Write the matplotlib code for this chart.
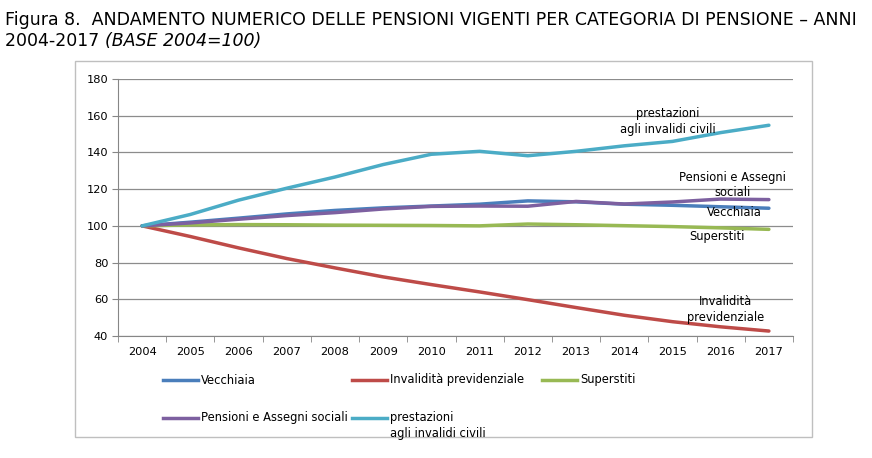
import matplotlib
matplotlib.use("Agg")
import matplotlib.pyplot as plt
from matplotlib.lines import Line2D
from matplotlib.patches import Rectangle

# anni
years = [str(y) for y in range(2004, 2018)]

# serie (base 2004 = 100)
vecchiaia = [100, 102.0, 104.2, 106.5, 108.4, 109.8, 110.8, 111.8, 113.6, 113.1, 111.8, 111.2, 110.4, 109.6]
invalidita = [100, 94.2, 88.0, 82.2, 77.1, 72.2, 68.0, 64.0, 59.8, 55.5, 51.3, 47.8, 45.0, 42.7]
superstiti = [100, 100.5, 100.7, 100.6, 100.4, 100.3, 100.2, 100.0, 101.0, 100.6, 100.1, 99.6, 98.9, 98.1]
pensioni_sociali = [100, 101.6, 103.6, 105.6, 107.2, 109.2, 110.6, 110.8, 110.7, 113.3, 111.9, 113.0, 114.6, 114.3]
invalidi_civili = [100, 106.2, 114.0, 120.5, 126.6, 133.4, 139.0, 140.6, 138.2, 140.6, 143.6, 146.0, 150.8, 154.8]

names = ["Vecchiaia", "Invalidità previdenziale", "Superstiti",
         "Pensioni e Assegni sociali", "prestazioni\nagli invalidi civili"]
series = [vecchiaia, invalidita, superstiti, pensioni_sociali, invalidi_civili]
colors = ["#4A7EBB", "#BE4B48", "#98B954", "#7D60A0", "#4BACC6"]

W, H = 872, 458
fig = plt.figure(figsize=(W / 100, H / 100), dpi=100)
plt.rcParams["font.family"] = ["DejaVu Sans"]

# titolo
tsize = 12.5
fig.text(5 / W, 1 - 20 / H, "Figura 8.  ANDAMENTO NUMERICO DELLE PENSIONI VIGENTI PER CATEGORIA DI PENSIONE \u2013 ANNI",
         fontsize=tsize, va="center", ha="left")
t1 = fig.text(5 / W, 1 - 41 / H, "2004-2017 ", fontsize=tsize, va="center", ha="left")
fig.canvas.draw()
bb = t1.get_window_extent()
fig.text(bb.x1 / W, 1 - 41 / H, "(BASE 2004=100)", fontsize=tsize, va="center", ha="left", style="italic")

# cornice del grafico
fig.add_artist(Rectangle((75 / W, 1 - 437 / H), 737 / W, 376 / H, transform=fig.transFigure,
                         fill=False, edgecolor="#BFBFBF", linewidth=1.0))

ax = fig.add_axes([118 / W, 1 - 336 / H, 675 / W, 257 / H])
x = list(range(len(years)))
for vals, c in zip(series, colors):
    ax.plot(x, vals, color=c, linewidth=2.5, solid_capstyle="round")

ax.set_xlim(-0.5, len(years) - 0.5)
ax.set_ylim(40, 180)
ax.set_yticks(range(40, 181, 20))
ax.set_xticks(x)
ax.set_xticklabels(years)
ax.set_xticks([i - 0.5 for i in range(len(years) + 1)], minor=True)
ax.tick_params(axis="x", which="major", length=0, labelsize=8.2, pad=8)
ax.tick_params(axis="x", which="minor", length=4, color="#868686", direction="out")
ax.tick_params(axis="y", length=4, color="#868686", labelsize=8.2, pad=3)
ax.grid(axis="y", color="#8C8C8C", linewidth=0.9)
ax.set_axisbelow(True)
for s in ["top", "right"]:
    ax.spines[s].set_visible(False)
for s in ["left", "bottom"]:
    ax.spines[s].set_color("#868686")

# etichette delle serie
lab = dict(fontsize=8.3, ha="center", va="center", linespacing=1.25)
ax.text(10.91, 156.8, "prestazioni\nagli invalidi civili", **lab)
ax.text(12.24, 122.2, "Pensioni e Assegni\nsociali", **lab)
ax.text(12.28, 107.5, "Vecchiaia", **lab)
ax.text(11.93, 94.4, "Superstiti", **lab)
ax.text(12.1, 54.3, "Invalidità\nprevidenziale", **lab)

# legenda
leg_pos = [(163, 380), (352, 380), (542, 380), (163, 418), (352, 418)]
for (lx, ly), name, c in zip(leg_pos, names, colors):
    fig.add_artist(Line2D([lx / W, (lx + 35) / W], [1 - ly / H, 1 - ly / H],
                          transform=fig.transFigure, color=c, linewidth=2.5))
    fig.text((lx + 38) / W, 1 - (ly - 6.5) / H, name, fontsize=8.3, ha="left", va="top", linespacing=1.25)

fig.savefig("out.png", dpi=100)
